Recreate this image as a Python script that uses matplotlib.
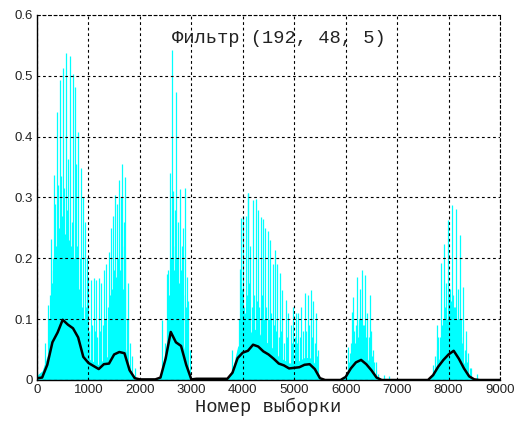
import matplotlib
matplotlib.use("Agg")
import matplotlib.pyplot as plt
import numpy as np

# sample grid of the smoothed curves (every 100 samples, 0..9000)
grid_x = list(range(0, 9001, 100))

# black smoothed envelope
envelope = [
    0.003, 0.004, 0.025, 0.062, 0.078, 0.099, 0.091, 0.085, 0.070, 0.038,
    0.028, 0.023, 0.018, 0.026, 0.027, 0.042, 0.046, 0.044, 0.016, 0.003,
    0.001, 0.001, 0.001, 0.001, 0.004, 0.035, 0.079, 0.062, 0.056, 0.025,
    0.001, 0.002, 0.002, 0.002, 0.002, 0.002, 0.002, 0.002, 0.012, 0.036,
    0.045, 0.048, 0.058, 0.055, 0.047, 0.042, 0.035, 0.027, 0.024, 0.019,
    0.020, 0.021, 0.025, 0.026, 0.018, 0.003, 0.000, 0.000, 0.000, 0.000,
    0.005, 0.019, 0.029, 0.033, 0.026, 0.016, 0.004, 0.000, 0.000, 0.000,
    0.000, 0.000, 0.000, 0.000, 0.000, 0.000, 0.000, 0.008, 0.022, 0.033,
    0.042, 0.048, 0.035, 0.019, 0.006, 0.001, 0.000, 0.000, 0.000, 0.000,
    0.000,
]

# solid cyan body of the rectified signal
body = [
    0.008, 0.015, 0.040, 0.090, 0.140, 0.160, 0.155, 0.130, 0.095, 0.050,
    0.035, 0.030, 0.025, 0.035, 0.040, 0.055, 0.065, 0.060, 0.018, 0.004,
    0.000, 0.000, 0.000, 0.000, 0.004, 0.050, 0.110, 0.090, 0.075, 0.035,
    0.000, 0.000, 0.000, 0.000, 0.000, 0.000, 0.000, 0.000, 0.018, 0.055,
    0.065, 0.070, 0.085, 0.080, 0.065, 0.060, 0.050, 0.038, 0.033, 0.028,
    0.028, 0.032, 0.037, 0.037, 0.027, 0.004, 0.000, 0.000, 0.000, 0.000,
    0.007, 0.028, 0.042, 0.047, 0.038, 0.023, 0.005, 0.002, 0.000, 0.000,
    0.000, 0.000, 0.000, 0.000, 0.000, 0.000, 0.000, 0.010, 0.032, 0.047,
    0.060, 0.066, 0.048, 0.028, 0.009, 0.000, 0.000, 0.000, 0.000, 0.000,
    0.000,
]

# main pitch spikes (sample number, amplitude)
spike_x = [
    150, 210, 266, 337, 356, 395, 414, 453, 472, 512, 531, 570, 609, 648,
    706, 745, 764, 803, 862, 890, 930, 970, 1000, 1050, 1100, 1150, 1200,
    1250, 1300, 1350, 1400, 1440, 1480, 1516, 1560, 1600, 1630, 1659, 1690,
    1717, 1760, 1800, 1850, 1900,
    2424, 2490, 2521, 2553, 2586, 2618, 2650, 2683, 2702, 2740, 2780, 2820,
    2845, 2871, 2910, 2942, 2975,
    3798, 3901, 3947, 3966, 4011, 4044, 4057, 4096, 4109, 4141, 4200, 4251,
    4303, 4348, 4400, 4433, 4484, 4530, 4580, 4627, 4672, 4724, 4770, 4840,
    4886, 4930, 4983, 5030, 5080, 5130, 5210, 5262, 5327, 5372, 5417, 5469,
    6053, 6090, 6124, 6150, 6180, 6215, 6250, 6280, 6312, 6345, 6377, 6420,
    6474, 6500, 6539, 6580, 6630, 6750, 6850,
    7705, 7769, 7800, 7847, 7880, 7918, 7950, 7983, 8020, 8061, 8100, 8139,
    8180, 8223, 8250, 8288, 8330, 8385, 8440, 8560,
]
spike_y = [
    0.060, 0.123, 0.232, 0.337, 0.290, 0.440, 0.320, 0.493, 0.335, 0.513,
    0.316, 0.537, 0.363, 0.532, 0.503, 0.481, 0.355, 0.407, 0.349, 0.300,
    0.260, 0.200, 0.170, 0.165, 0.167, 0.165, 0.167, 0.160, 0.180, 0.190,
    0.210, 0.250, 0.270, 0.304, 0.290, 0.329, 0.300, 0.355, 0.260, 0.334,
    0.160, 0.060, 0.040, 0.020,
    0.099, 0.060, 0.175, 0.180, 0.340, 0.543, 0.310, 0.280, 0.474, 0.260,
    0.314, 0.220, 0.250, 0.316, 0.170, 0.130, 0.050,
    0.049, 0.050, 0.183, 0.266, 0.270, 0.110, 0.270, 0.308, 0.307, 0.220,
    0.296, 0.298, 0.280, 0.268, 0.265, 0.250, 0.245, 0.230, 0.190, 0.214,
    0.190, 0.176, 0.148, 0.131, 0.110, 0.090, 0.120, 0.110, 0.110, 0.120,
    0.143, 0.140, 0.148, 0.130, 0.110, 0.050,
    0.055, 0.045, 0.112, 0.137, 0.060, 0.170, 0.100, 0.150, 0.181, 0.090,
    0.173, 0.110, 0.140, 0.080, 0.050, 0.030, 0.010, 0.008, 0.007,
    0.025, 0.090, 0.070, 0.192, 0.080, 0.224, 0.160, 0.263, 0.150, 0.288,
    0.120, 0.281, 0.150, 0.238, 0.100, 0.153, 0.080, 0.045, 0.020, 0.010,
]

# smaller in-between spikes filling the dense part
minor_x = [
    230, 250, 285, 305, 320, 375, 430, 440, 490, 550, 590, 625, 670, 685,
    725, 780, 820, 840, 875, 910, 950, 1020, 1075, 1125, 1175, 1225, 1275,
    1320, 1375, 1420, 1460, 1500, 1540, 1580, 1615, 1645, 1675, 1705, 1740,
    2540, 2570, 2600, 2635, 2665, 2720, 2760, 2800, 2835, 2890, 2925,
    3920, 3985, 4030, 4075, 4125, 4170, 4225, 4280, 4325, 4375, 4420, 4460,
    4505, 4555, 4600, 4650, 4700, 4750, 4800, 4860, 4960, 5010, 5055, 5105,
    5170, 5235, 5290, 5350, 5395, 5440,
    6070, 6105, 6135, 6165, 6200, 6230, 6265, 6295, 6330, 6360, 6395, 6445,
    6520, 6560,
    7740, 7785, 7825, 7865, 7900, 7935, 7965, 8000, 8040, 8080, 8120, 8160,
    8200, 8240, 8270, 8310, 8350, 8410,
]
minor_y = [
    0.10, 0.14, 0.16, 0.20, 0.18, 0.22, 0.25, 0.20, 0.27, 0.24, 0.28, 0.23,
    0.22, 0.26, 0.20, 0.22, 0.15, 0.20, 0.12, 0.10, 0.12, 0.08, 0.09, 0.08,
    0.07, 0.08, 0.09, 0.10, 0.12, 0.14, 0.15, 0.18, 0.17, 0.20, 0.18, 0.22,
    0.15, 0.20, 0.10,
    0.10, 0.14, 0.20, 0.22, 0.18, 0.20, 0.16, 0.18, 0.14, 0.12, 0.08,
    0.10, 0.15, 0.12, 0.14, 0.16, 0.12, 0.14, 0.13, 0.12, 0.14, 0.10, 0.12,
    0.10, 0.11, 0.09, 0.08, 0.07, 0.08, 0.06, 0.07, 0.06, 0.07, 0.06, 0.07,
    0.08, 0.08, 0.09, 0.07, 0.06, 0.04,
    0.03, 0.06, 0.07, 0.08, 0.09, 0.07, 0.09, 0.10, 0.08, 0.09, 0.07, 0.07,
    0.04, 0.03,
    0.04, 0.05, 0.07, 0.09, 0.10, 0.12, 0.10, 0.14, 0.13, 0.14, 0.12, 0.10,
    0.10, 0.07, 0.06, 0.05, 0.03, 0.02,
]

title = "Фильтр (192, 48, 5)"
xlabel = "Номер выборки"

fig = plt.figure(figsize=(5.16, 4.21), dpi=100)
ax = fig.add_axes([0.0717, 0.0974, 0.8973, 0.867])

cyan = "#00ffff"
ax.fill_between(grid_x, 0, body, color=cyan, linewidth=0, zorder=2)
ax.vlines(minor_x, 0, minor_y, color=cyan, linewidth=0.9, zorder=2)
ax.vlines(spike_x, 0, spike_y, color=cyan, linewidth=0.9, zorder=2)
ax.plot(grid_x, envelope, color="black", linewidth=1.8, zorder=4)

ax.set_xlim(0, 9000)
ax.set_ylim(0, 0.6)
ax.set_xticks(range(0, 9001, 1000))
ax.set_yticks([0, 0.1, 0.2, 0.3, 0.4, 0.5, 0.6])
ax.set_yticklabels(["0", "0.1", "0.2", "0.3", "0.4", "0.5", "0.6"])
ax.tick_params(length=0, labelsize=9.5, pad=3)
for lab in ax.get_xticklabels() + ax.get_yticklabels():
    lab.set_fontfamily("Liberation Sans")
    lab.set_color("#222222")

ax.grid(True, color="black", linestyle=(0, (2.5, 2.5)), linewidth=0.8, zorder=1)
ax.set_axisbelow(False)
for s in ["top", "right"]:
    ax.spines[s].set_linestyle((0, (2.5, 2.5)))
    ax.spines[s].set_linewidth(0.8)
for s in ["left", "bottom"]:
    ax.spines[s].set_linewidth(1.0)

ax.text(4700, 0.562, title, family="Liberation Mono", fontsize=13.5,
        ha="center", va="center", color="#222222", zorder=5)
ax.set_xlabel(xlabel, family="Liberation Mono", fontsize=13.5, labelpad=1,
              color="#222222")

fig.savefig("out.png", dpi=100)
